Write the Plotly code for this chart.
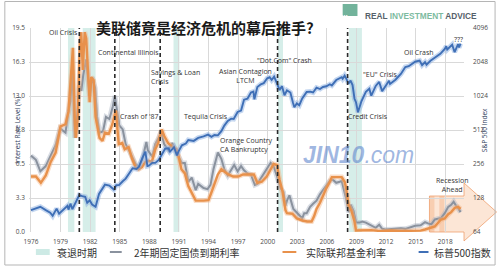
import numpy as np
import plotly.graph_objects as go

# ---------------- data ----------------
ff_years = [1976.0, 1976.5, 1977.0, 1977.5, 1978.0, 1978.5, 1979.0, 1979.5, 1979.8, 1980.0, 1980.25, 1980.45,
            1980.55, 1980.75, 1980.95, 1981.1, 1981.25, 1981.45, 1981.6, 1981.8, 1981.95, 1982.1, 1982.35,
            1982.55, 1982.75, 1982.95, 1983.25, 1983.5, 1983.9, 1984.25, 1984.6, 1984.9, 1985.25, 1985.5,
            1985.9, 1986.25, 1986.6, 1986.9, 1987.25, 1987.6, 1987.9, 1988.25, 1988.6, 1988.9, 1989.25,
            1989.5, 1989.9, 1990.25, 1990.75, 1990.95, 1991.25, 1991.6, 1991.95, 1992.3, 1992.7, 1993.5,
            1994.0, 1994.3, 1994.6, 1994.95, 1995.3, 1995.6, 1996.0, 1996.5, 1997.0, 1997.5, 1998.0, 1998.6,
            1998.95, 1999.4, 1999.9, 2000.3, 2000.6, 2000.95, 2001.2, 2001.5, 2001.8, 2001.95, 2002.5,
            2002.95, 2003.5, 2004.0, 2004.45, 2004.7, 2004.95, 2005.3, 2005.6, 2005.95, 2006.3, 2006.5,
            2007.5, 2007.8, 2007.95, 2008.2, 2008.5, 2008.8, 2008.95, 2009.5, 2010.5, 2011.5, 2012.5,
            2013.5, 2014.5, 2015.5, 2015.95, 2016.5, 2016.95, 2017.3, 2017.5, 2017.95, 2018.3, 2018.6,
            2018.95, 2019.3, 2019.55]
fed_funds = [5.3, 5.3, 4.7, 5.4, 6.7, 7.6, 10.1, 10.3, 11.5, 14.0, 17.6, 10.5,
             9.0, 11.0, 18.0, 19.1, 15.5, 19.1, 18.5, 15.0, 12.4, 14.8, 14.5,
             11.0, 10.0, 9.0, 8.7, 9.5, 9.4, 10.3, 11.6, 8.4, 8.5, 7.9,
             8.1, 7.0, 6.2, 6.0, 6.2, 6.7, 6.8, 6.7, 7.9, 8.5, 9.8,
             9.2, 8.5, 8.2, 7.9, 7.3, 6.0, 5.6, 4.4, 3.8, 3.0, 3.0,
             3.05, 3.8, 4.5, 5.5, 6.0, 5.8, 5.5, 5.3, 5.3, 5.5, 5.5, 5.5,
             4.7, 4.8, 5.3, 6.0, 6.5, 6.4, 5.0, 3.9, 2.1, 1.8, 1.75,
             1.3, 1.1, 1.0, 1.0, 1.5, 2.2, 2.8, 3.5, 4.2, 4.8, 5.25,
             5.25, 4.8, 4.2, 2.6, 2.0, 1.0, 0.15, 0.15, 0.18, 0.08, 0.15,
             0.1, 0.1, 0.13, 0.24, 0.38, 0.54, 0.9, 1.15, 1.3, 1.7, 1.9,
             2.3, 2.4, 2.2]

t2_years = [1976.0, 1976.5, 1976.95, 1977.5, 1977.95, 1978.5, 1978.95, 1979.5, 1979.8, 1980.0, 1980.2,
            1980.45, 1980.6, 1980.9, 1981.1, 1981.3, 1981.6, 1981.8, 1981.95, 1982.2, 1982.5, 1982.7,
            1982.95, 1983.3, 1983.6, 1983.95, 1984.3, 1984.5, 1984.75, 1984.95, 1985.3, 1985.6, 1985.95,
            1986.3, 1986.6, 1986.95, 1987.3, 1987.7, 1987.85, 1988.3, 1988.6, 1988.95, 1989.2, 1989.5,
            1989.95, 1990.3, 1990.6, 1990.95, 1991.3, 1991.6, 1991.95, 1992.3, 1992.7, 1992.95, 1993.5,
            1993.9, 1994.2, 1994.5, 1994.95, 1995.3, 1995.6, 1995.95, 1996.3, 1996.6, 1996.95, 1997.3,
            1997.6, 1997.95, 1998.3, 1998.7, 1998.95, 1999.5, 1999.95, 2000.3, 2000.6, 2000.95, 2001.3,
            2001.6, 2001.8, 2001.95, 2002.2, 2002.6, 2002.95, 2003.3, 2003.5, 2003.7, 2003.95, 2004.3,
            2004.6, 2004.95, 2005.3, 2005.6, 2005.95, 2006.3, 2006.6, 2006.95, 2007.3, 2007.5, 2007.7,
            2007.95, 2008.2, 2008.4, 2008.7, 2008.95, 2009.3, 2009.6, 2009.95, 2010.5, 2010.95, 2011.3,
            2011.6, 2011.95, 2012.5, 2012.95, 2013.5, 2013.95, 2014.5, 2014.95, 2015.5, 2015.95, 2016.3,
            2016.6, 2016.95, 2017.3, 2017.6, 2017.95, 2018.3, 2018.6, 2018.85, 2019.1, 2019.3, 2019.55]
treasury_2y = [7.3, 6.9, 5.8, 6.3, 7.2, 8.3, 9.9, 9.5, 11.5, 12.5, 15.5,
               9.0, 10.0, 14.0, 13.5, 15.0, 16.5, 14.5, 13.0, 14.8, 13.8, 11.0,
               9.5, 9.6, 11.0, 10.8, 12.0, 13.0, 11.5, 10.2, 9.8, 8.4, 7.8,
               7.0, 6.5, 6.2, 7.0, 8.6, 7.8, 7.2, 8.4, 9.0, 9.6, 8.4,
               7.8, 8.5, 8.0, 7.2, 6.6, 6.6, 4.8, 5.2, 4.0, 4.6, 4.2,
               4.1, 4.5, 6.0, 7.6, 7.0, 6.0, 5.4, 6.0, 6.4, 5.8, 6.3,
               5.9, 5.6, 5.5, 4.5, 4.6, 5.5, 6.1, 6.6, 6.3, 5.3, 4.2,
               3.8, 2.5, 3.0, 3.5, 2.2, 1.8, 1.5, 1.3, 1.8, 1.8, 2.4,
               2.7, 3.0, 3.6, 4.0, 4.4, 4.9, 5.0, 4.7, 4.8, 4.9, 4.1,
               3.2, 1.9, 2.6, 2.0, 0.9, 0.9, 1.0, 0.9, 0.6, 0.4, 0.7,
               0.3, 0.25, 0.28, 0.25, 0.35, 0.3, 0.45, 0.6, 0.65, 0.95, 0.8,
               0.75, 1.2, 1.3, 1.35, 1.8, 2.4, 2.6, 2.9, 2.5, 2.3, 1.9]

sp_years = [1976.0, 1976.5, 1976.95, 1977.5, 1977.95, 1978.2, 1978.6, 1978.85, 1979.2, 1979.7, 1979.8,
            1980.0, 1980.2, 1980.5, 1980.9, 1981.2, 1981.5, 1981.7, 1981.95, 1982.2, 1982.55, 1982.9,
            1983.3, 1983.5, 1983.95, 1984.4, 1984.65, 1984.95, 1985.3, 1985.6, 1985.95, 1986.3, 1986.7,
            1986.95, 1987.3, 1987.6, 1987.8, 1987.95, 1988.3, 1988.6, 1988.95, 1989.3, 1989.6, 1989.95,
            1990.1, 1990.5, 1990.8, 1990.95, 1991.3, 1991.7, 1991.95, 1992.5, 1992.95, 1993.5, 1993.95,
            1994.3, 1994.6, 1994.95, 1995.3, 1995.6, 1995.95, 1996.3, 1996.55, 1996.95, 1997.3, 1997.6,
            1997.95, 1998.3, 1998.55, 1998.65, 1998.95, 1999.3, 1999.6, 1999.95, 2000.2, 2000.4, 2000.65,
            2000.95, 2001.2, 2001.45, 2001.7, 2001.95, 2002.3, 2002.55, 2002.7, 2002.95, 2003.2, 2003.5,
            2003.95, 2004.3, 2004.6, 2004.95, 2005.3, 2005.6, 2005.95, 2006.3, 2006.5, 2006.95, 2007.3,
            2007.5, 2007.6, 2007.8, 2007.95, 2008.2, 2008.4, 2008.6, 2008.8, 2008.95, 2009.15, 2009.3,
            2009.5, 2009.95, 2010.3, 2010.5, 2010.95, 2011.3, 2011.6, 2011.95, 2012.3, 2012.4, 2012.95,
            2013.5, 2013.95, 2014.3, 2014.6, 2014.95, 2015.4, 2015.65, 2015.95, 2016.1, 2016.5, 2016.95,
            2017.5, 2017.95, 2018.1, 2018.2, 2018.7, 2018.95, 2019.1, 2019.3, 2019.4, 2019.55]
sp500 = [100, 104, 107, 100, 95, 89, 103, 93, 100, 109, 101,
         114, 102, 114, 136, 133, 131, 116, 122, 112, 107, 139,
         160, 168, 165, 152, 166, 167, 180, 190, 211, 235, 231,
         242, 290, 329, 245, 247, 262, 262, 278, 310, 350, 353,
         330, 360, 305, 330, 375, 388, 417, 410, 436, 450, 466,
         445, 462, 459, 500, 560, 615, 645, 640, 740, 760, 950,
         970, 1100, 1120, 957, 1229, 1300, 1330, 1469, 1500, 1420, 1517,
         1320, 1160, 1250, 1040, 1148, 1100, 900, 815, 880, 848, 975,
         1112, 1120, 1100, 1212, 1180, 1230, 1248, 1300, 1270, 1418, 1480,
         1503, 1455, 1549, 1468, 1320, 1400, 1280, 968, 903, 735, 797,
         919, 1115, 1187, 1031, 1258, 1364, 1131, 1258, 1400, 1310, 1426,
         1606, 1848, 1880, 1970, 2059, 2105, 1920, 2044, 1940, 2100, 2239,
         2420, 2674, 2823, 2640, 2914, 2507, 2704, 2945, 2752, 2980]

recessions = [(1979.75, 1980.4), (1981.25, 1982.55), (1990.45, 1991.05), (2001.05, 2001.55), (2008.25, 2009.55)]
crisis_lines = [1980.9, 1984.5, 1989.1, 2001.0, 2008.1]

x_ticks = list(range(1976, 2019, 3))
y_ticks = [0, 3.25, 6.5, 9.75, 13, 16.25, 19.5]
y_tick_text = ["0.0", "3.3", "6.5", "9.8", "13.0", "16.3", "19.5"]
y2_ticks = [64, 128, 256, 512, 1024, 2048, 4096]

events = [
    ("Oil Crisis", 1979.3, 19.1, "center"),
    ("Continental Illinois", 1985.9, 17.2, "center"),
    ("Crash of '87", 1987.0, 11.0, "center"),
    ("Savings & Loan<br>Crisis", 1988.0, 14.8, "left"),
    ("Tequila Crisis", 1993.7, 11.0, "center"),
    ("Asian Contagion<br>LTCM", 1997.75, 14.9, "center"),
    ("Orange Country<br>CA Bankruptcy", 1995.0, 8.27, "left"),
    ("\"Dot.Com\" Crash", 2001.7, 16.4, "center"),
    ("Credit Crisis", 2010.2, 11.0, "center"),
    ("\"EU\" Crisis", 2011.4, 15.1, "center"),
    ("Oil Crash", 2015.3, 17.2, "center"),
    ("???", 2019.3, 18.4, "center"),
    ("Recession<br>Ahead", 2018.7, 4.45, "center"),
]

# ---------------- layout geometry ----------------
W, H = 500, 267
L, R, T, B = 26, 33, 28, 35
PW, PH = W - L - R, H - T - B


def px(x):
    return (x - L) / PW


def py(y):
    return (H - B - y) / PH


ORANGE = "#e8914b"
GREY = "#8a929e"
BLUE = "#3f6fb6"

fig = go.Figure()

# glow + line for each series
fig.add_trace(go.Scatter(x=t2_years, y=treasury_2y, mode="lines",
                         line=dict(color="rgba(170,180,195,0.45)", width=5), hoverinfo="skip"))
fig.add_trace(go.Scatter(x=t2_years, y=treasury_2y, mode="lines", name="2年期固定国债到期利率",
                         line=dict(color=GREY, width=2)))
fig.add_trace(go.Scatter(x=ff_years, y=fed_funds, mode="lines",
                         line=dict(color="rgba(245,180,130,0.45)", width=5), hoverinfo="skip"))
fig.add_trace(go.Scatter(x=ff_years, y=fed_funds, mode="lines", name="实际联邦基金利率",
                         line=dict(color=ORANGE, width=2.4)))
fig.add_trace(go.Scatter(x=sp_years, y=sp500, mode="lines", yaxis="y2",
                         line=dict(color="rgba(140,175,225,0.5)", width=5), hoverinfo="skip"))
fig.add_trace(go.Scatter(x=sp_years, y=sp500, mode="lines", yaxis="y2", name="标普500指数",
                         line=dict(color=BLUE, width=1.9)))

shapes = []
for a, b in recessions:
    shapes.append(dict(type="rect", xref="x", yref="paper", x0=a, x1=b, y0=0, y1=1,
                       fillcolor="rgba(200,232,226,0.75)", line=dict(width=0), layer="between"))
for c in crisis_lines:
    shapes.append(dict(type="line", xref="x", yref="paper", x0=c, x1=c, y0=0, y1=1,
                       line=dict(color="#2b2b2b", width=1.6, dash="4px,3px"), layer="above"))

# "Recession Ahead" arrow
arrow = [(432, 196), (467, 196), (467, 183), (500, 212), (467, 241), (467, 232), (432, 232)]
path = "M" + " L".join(f"{px(a):.4f},{py(b):.4f}" for a, b in arrow) + " Z"
shapes.append(dict(type="path", xref="paper", yref="paper", path=path,
                   fillcolor="rgba(248,200,165,0.45)", line=dict(color="rgba(236,150,95,0.7)", width=1),
                   layer="between"))
for a, b in [(432, 437), (442, 447)]:
    shapes.append(dict(type="rect", xref="paper", yref="paper", x0=px(a), x1=px(b), y0=py(232), y1=py(196),
                       fillcolor="rgba(240,160,110,0.35)", line=dict(width=0), layer="between"))

# outer frame
shapes.append(dict(type="rect", xref="paper", yref="paper", x0=px(1.5), x1=px(498.5), y0=py(265), y1=py(1.5),
                   line=dict(color="#b5b5b5", width=1), fillcolor="rgba(0,0,0,0)", layer="below"))

# logo icon
shapes.append(dict(type="rect", xref="paper", yref="paper", x0=px(344), x1=px(359), y0=py(16), y1=py(4),
                   fillcolor="#72b39b", line=dict(width=0)))

# manual legend
LY = 252
shapes.append(dict(type="rect", xref="paper", yref="paper", x0=px(33), x1=px(47), y0=py(LY + 3), y1=py(LY - 3),
                   fillcolor="rgba(200,232,226,0.9)", line=dict(width=0)))
for (a, b, col) in [(108, 120, GREY), (283, 297, ORANGE), (421, 431, BLUE)]:
    shapes.append(dict(type="line", xref="paper", yref="paper", x0=px(a), x1=px(b), y0=py(LY), y1=py(LY),
                       line=dict(color=col, width=2)))

annotations = []
for txt, xv, yv, al in events:
    annotations.append(dict(text=txt, x=xv, y=yv, xref="x", yref="y", showarrow=False,
                            xanchor="left" if al == "left" else "center", align=al,
                            font=dict(size=7, color="#333333", family="Open Sans")))

legend_items = [("衰退时期", 52), ("2年期固定国债到期利率", 130), ("实际联邦基金利率", 305), ("标普500指数", 435)]
for txt, xl in legend_items:
    annotations.append(dict(text=txt, x=px(xl), y=py(LY), xref="paper", yref="paper", showarrow=False,
                            xanchor="left", yanchor="middle",
                            font=dict(size=10, color="#333333", family="Noto Sans CJK SC")))

annotations += [
    dict(text="<b>美联储竟是经济危机的幕后推手?</b>", x=px(204), y=py(15), xref="paper", yref="paper",
         showarrow=False, font=dict(size=15, color="#1a1a1a", family="Noto Sans CJK SC")),
    dict(text="<b>REAL <span style='color:#7dbb9f'>INVESTMENT</span> ADVICE</b>", x=px(365), y=py(9),
         xref="paper", yref="paper", xanchor="left", showarrow=False,
         font=dict(size=8.3, color="#56616a", family="Liberation Sans")),
    dict(text="•••", x=px(351.5), y=py(10), xref="paper", yref="paper", showarrow=False,
         font=dict(size=6, color="white")),
    dict(text="<i><b>JIN10</b></i><i>.com</i>", x=px(418), y=py(170), xref="paper", yref="paper",
         showarrow=False, font=dict(size=23, color="rgba(95,135,205,0.6)", family="Liberation Sans")),
    dict(text="Interest Rate Level (%)", x=px(7), y=0.5, xref="paper", yref="paper", textangle=-90,
         showarrow=False, font=dict(size=6.5, color="#2e3e5c", family="Open Sans")),
    dict(text="S&P 500 Index", x=px(494), y=0.5, xref="paper", yref="paper", textangle=-90,
         showarrow=False, font=dict(size=6.5, color="#2e3e5c", family="Open Sans")),
]

tickfont = dict(size=6.5, color="#4a4a4a", family="Open Sans")
fig.update_layout(
    width=W, height=H, margin=dict(l=L, r=R, t=T, b=B),
    paper_bgcolor="white", plot_bgcolor="white", showlegend=False,
    xaxis=dict(range=[1975.8, 2019.9], tickvals=x_ticks, showgrid=True, gridcolor="#d9d9d9", gridwidth=1,
               zeroline=False, showline=False, tickfont=tickfont, ticks="", ticklabelstandoff=4),
    yaxis=dict(range=[0, 19.5], tickvals=y_ticks, ticktext=y_tick_text, showgrid=True, gridcolor="#d9d9d9",
               zeroline=False, tickfont=tickfont, ticks="", ticklabelstandoff=3),
    yaxis2=dict(type="log", overlaying="y", side="right", range=[np.log10(64), np.log10(4096)],
                tickvals=y2_ticks, ticktext=[str(v) for v in y2_ticks], showgrid=False, zeroline=False,
                tickfont=tickfont, ticks="", ticklabelstandoff=8),
    shapes=shapes, annotations=annotations,
)

fig.write_html("out.html")
